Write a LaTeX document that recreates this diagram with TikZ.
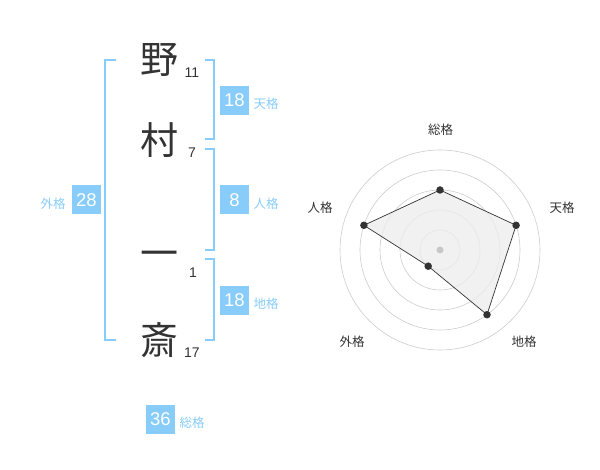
\documentclass[tikz,border=0pt]{standalone}
\usepackage{fontspec}
\setmainfont{Liberation Sans}
\newfontfamily\jpfont{Noto Sans CJK JP}
\definecolor{kaku}{HTML}{88CCFA}
\definecolor{ink}{HTML}{333333}
\begin{document}
\begin{tikzpicture}[x=1pt,y=-1pt,
kanji/.style={font=\jpfont\fontsize{38}{38}\selectfont,text=ink,inner sep=0pt},
strokes/.style={font=\fontsize{14}{14}\selectfont,text=ink,inner sep=0pt},
kakubox/.style={fill=kaku,text=white,minimum size=29pt,inner sep=0pt,font=\fontsize{18.5}{18.5}\selectfont},
kakuname/.style={font=\jpfont\fontsize{12.5}{12.5}\selectfont,text=kaku,inner sep=0pt},
bracket/.style={draw=kaku,line width=2pt},
ring/.style={draw=black!20,line width=0.6pt},
axisname/.style={font=\jpfont\fontsize{12.5}{12.5}\selectfont,text=ink,inner sep=0pt},
dot/.style={circle,fill=ink,minimum size=7.5pt,inner sep=0pt}]
\useasboundingbox (0,0) rectangle (600,470);
\node[kanji] (K1) at (159,60) {野};
\node[kanji] (K2) at (159,140) {村};
\node[kanji] (K3) at (159,259) {一};
\node[kanji] (K4) at (159,340) {斎};
\node[strokes] (S1) at (192,73) {11};
\node[strokes] (S2) at (192,153) {7};
\node[strokes] (S3) at (193,273) {1};
\node[strokes] (S4) at (192,353) {17};
\draw[bracket] (116,60) -- (105,60) -- (105,340) -- (116,340);
\draw[bracket] (205,60) -- (214,60) -- (214,139) -- (205,139);
\draw[bracket] (205,149) -- (214,149) -- (214,250) -- (205,250);
\draw[bracket] (205,259) -- (214,259) -- (214,340) -- (205,340);
\node[kakubox] (Ten) at (234.5,100.5) {18};
\node[kakuname] (TenL) at (266,104) {天格};
\node[kakubox] (Jin) at (234.5,200) {8};
\node[kakuname] (JinL) at (266,204) {人格};
\node[kakubox] (Chi) at (234.5,300.5) {18};
\node[kakuname] (ChiL) at (266,304) {地格};
\node[kakubox] (Gai) at (86.5,200) {28};
\node[kakuname] (GaiL) at (53,204) {外格};
\node[kakubox] (Sou) at (160.5,419) {36};
\node[kakuname] (SouL) at (192,423) {総格};
\coordinate (C) at (440,250);
\draw[ring] (C) circle (20);
\draw[ring] (C) circle (40);
\draw[ring] (C) circle (60);
\draw[ring] (C) circle (80);
\draw[ring] (C) circle (100);
\coordinate (R0) at (440,190);
\coordinate (R1) at (516.1,225.3);
\coordinate (R2) at (487,314.7);
\coordinate (R3) at (428.2,266.2);
\coordinate (R4) at (363.9,225.3);
\draw[fill=black!7,fill opacity=0.8,draw=ink,line width=0.7pt] (R0) -- (R1) -- (R2) -- (R3) -- (R4) -- cycle;
\fill[black!22] (C) circle (3.5);
\node[dot] (D0) at (R0) {};
\node[dot] (D1) at (R1) {};
\node[dot] (D2) at (R2) {};
\node[dot] (D3) at (R3) {};
\node[dot] (D4) at (R4) {};
\node[axisname] (A0) at (440.5,130) {総格};
\node[axisname] (A1) at (562,208) {天格};
\node[axisname] (A2) at (524,342) {地格};
\node[axisname] (A3) at (352,342) {外格};
\node[axisname] (A4) at (320,208) {人格};
\end{tikzpicture}
\end{document}
